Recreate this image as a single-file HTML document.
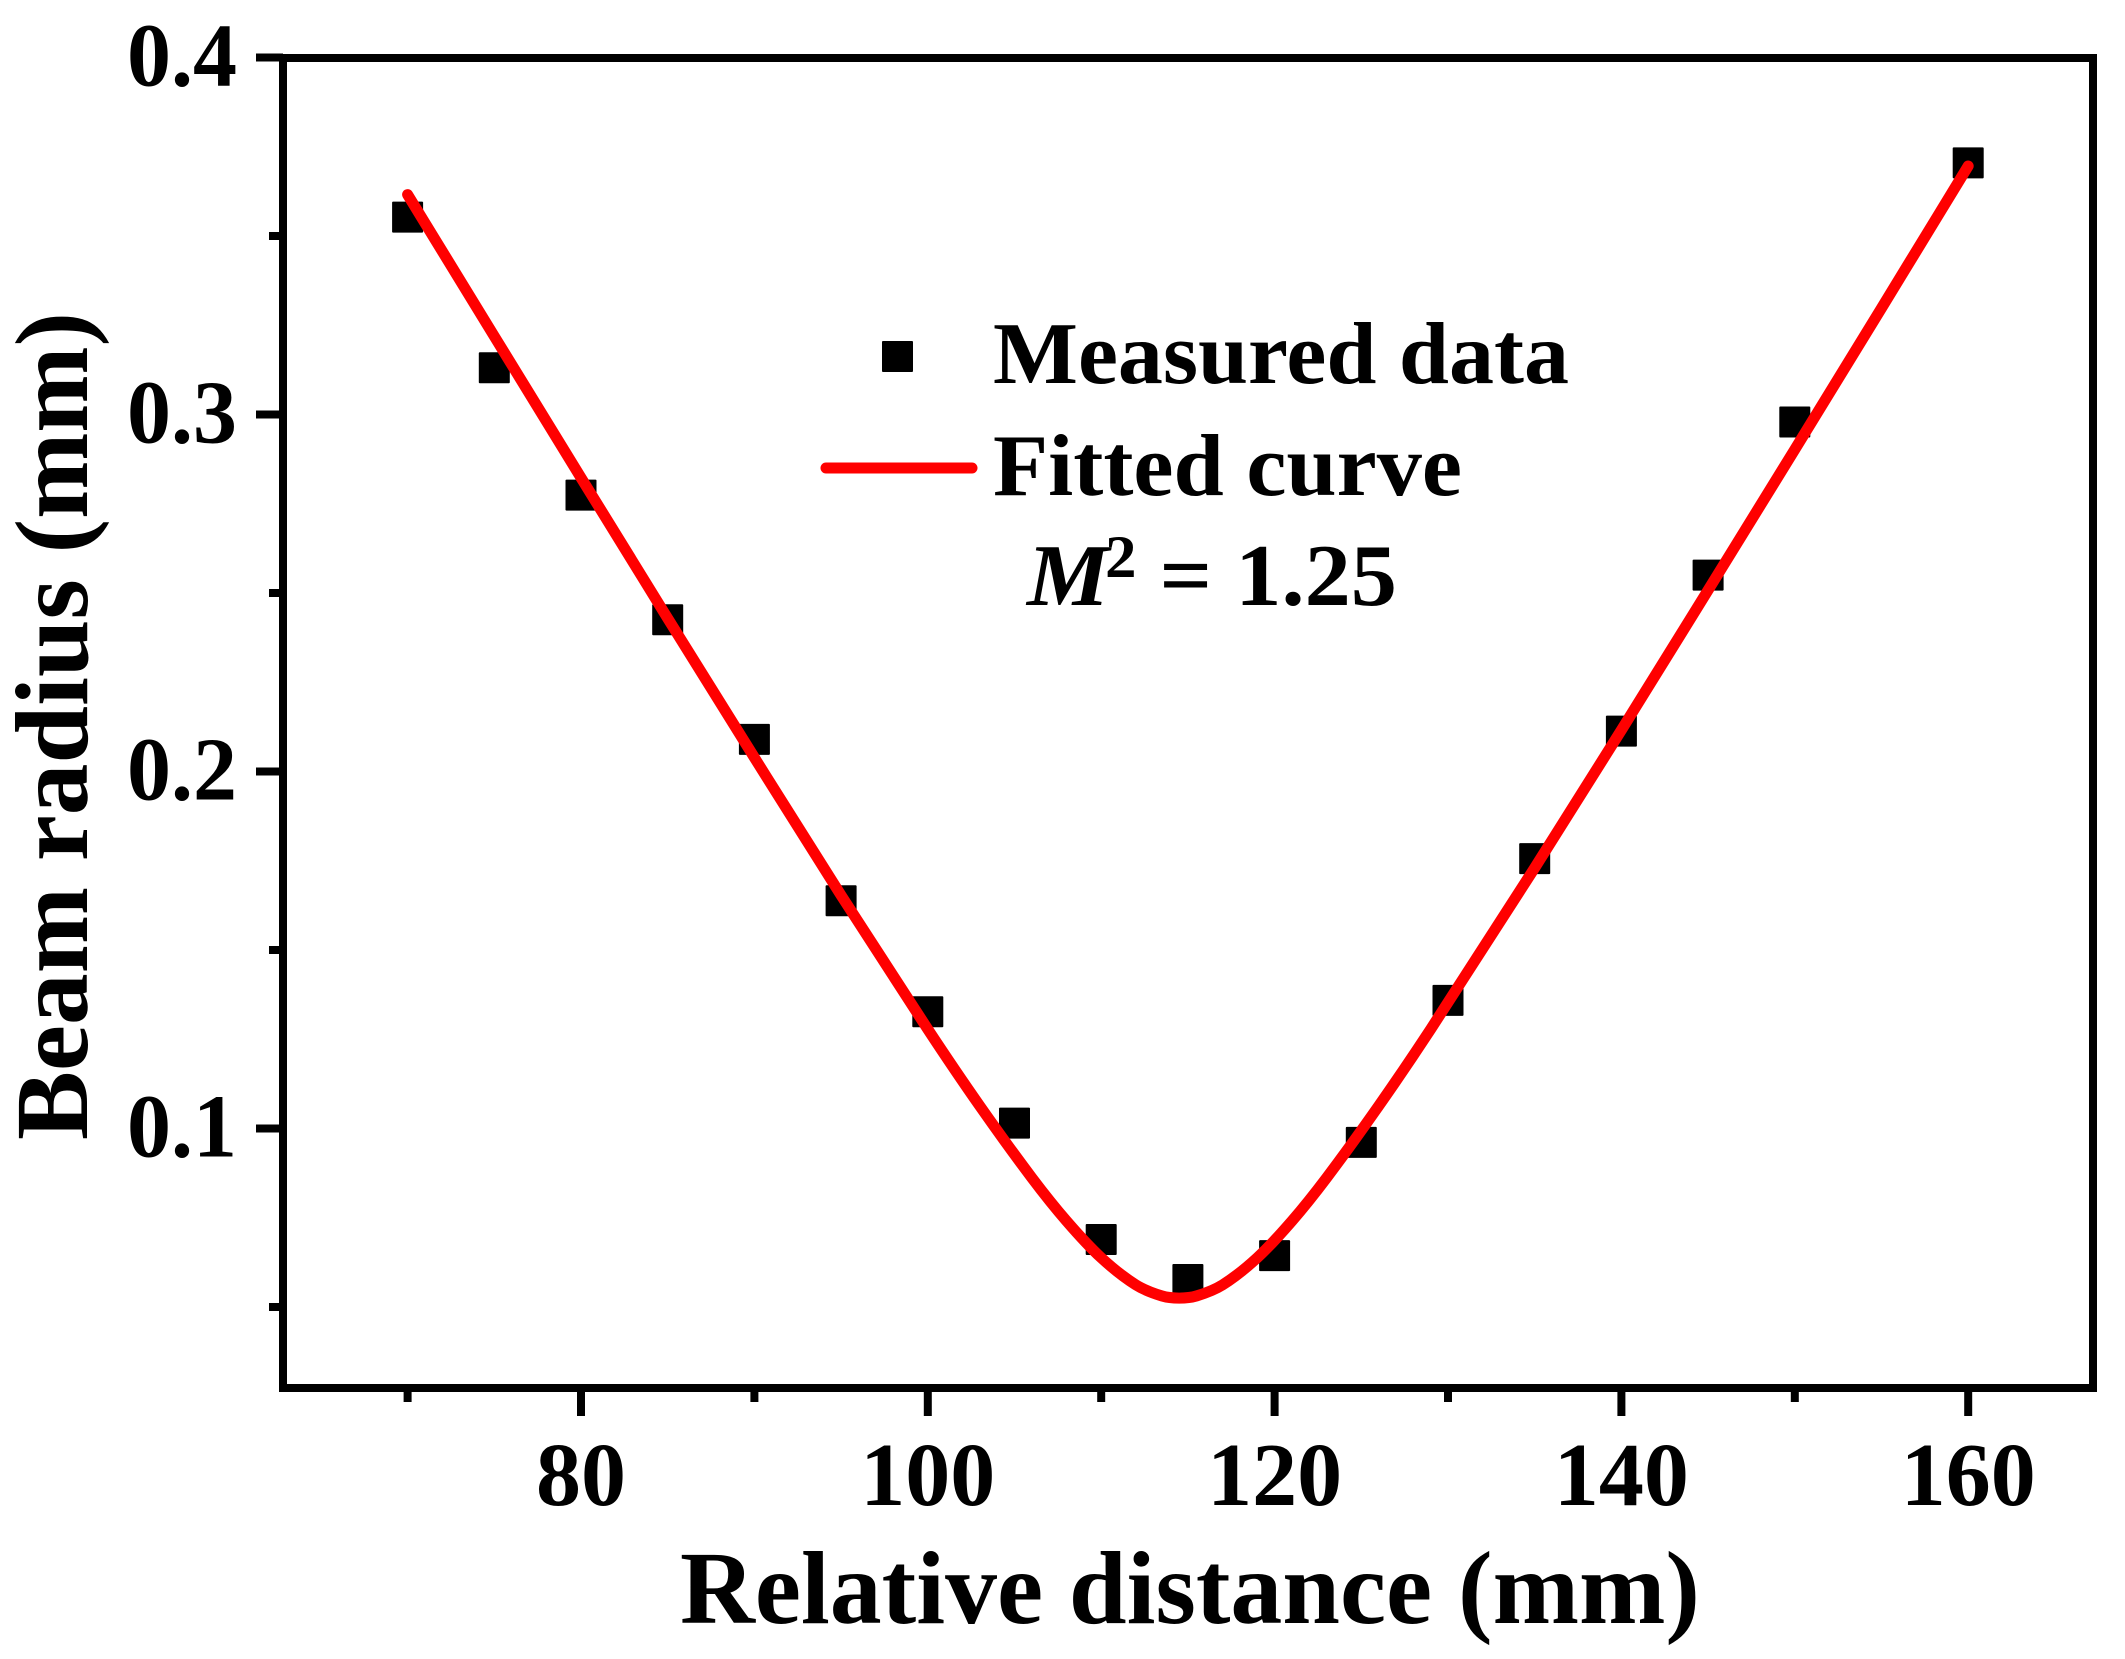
<!DOCTYPE html>
<html>
<head>
<meta charset="utf-8">
<title>Beam radius vs relative distance</title>
<style>
html,body{margin:0;padding:0;background:#fff;}
svg{display:block;}
text{font-family:"Liberation Serif",serif;font-weight:bold;fill:#000;}
</style>
</head>
<body>
<svg id="chart" xmlns="http://www.w3.org/2000/svg" width="2125" height="1659" viewBox="0 0 2125 1659">
  <rect x="0" y="0" width="2125" height="1659" fill="#fff"/>
  <g id="ticks"></g>
  <g id="labels"></g>
  <g id="points"></g>
  <path id="fit" fill="none" stroke="#ff0000" stroke-width="11" stroke-linecap="round" stroke-linejoin="round"/>
  <rect x="283" y="58" width="1810" height="1330" fill="none" stroke="#000" stroke-width="8"/>
  <text x="1190" y="1623" font-size="104" text-anchor="middle" textLength="1020" lengthAdjust="spacingAndGlyphs">Relative distance (mm)</text>
  <text transform="translate(87,1140) rotate(-90)" x="0" y="0" font-size="104" textLength="828" lengthAdjust="spacingAndGlyphs">Beam radius (mm)</text>
  <g>
    <rect x="882" y="341" width="31" height="31" rx="1" fill="#000"/>
    <text x="993" y="383" font-size="88" textLength="576" lengthAdjust="spacingAndGlyphs">Measured data</text>
    <line x1="826" y1="468" x2="972" y2="468" stroke="#ff0000" stroke-width="11" stroke-linecap="round"/>
    <text x="993" y="495" font-size="88" textLength="469" lengthAdjust="spacingAndGlyphs">Fitted curve</text>
    <text transform="translate(1027,605) scale(1.05,1)" x="0" y="0" font-size="88"><tspan font-style="italic">M</tspan><tspan font-size="60" dy="-28" dx="-4">2</tspan><tspan dy="28"> = 1.25</tspan></text>
  </g>
</svg>
<script>
var measuredX = [70,75,80,85,90,95,100,105,110,115,120,125,130,135,140,145,150,160];
var measuredY = [0.3553,0.3131,0.2774,0.2425,0.209,0.1638,0.1327,0.1015,0.0689,0.0577,0.0644,0.0961,0.1359,0.1756,0.2113,0.255,0.2979,0.3705];
var fitX = [70,75,80,85,90,95,100,103,106,108,110,112,113.5,114.5,115.5,117,119,121,123,126,129,135,140,145,150,155,160];
var fitY = [0.3616,0.3219,0.2823,0.2429,0.2039,0.1653,0.1278,0.1063,0.0862,0.0741,0.0638,0.0562,0.0531,0.0525,0.0531,0.0562,0.0638,0.0741,0.0862,0.1063,0.1278,0.173,0.2116,0.2508,0.2902,0.3298,0.3696];
var xMajorTicks = [80,100,120,140,160];
var xMinorTicks = [70,90,110,130,150];
var yMajorTicks = [0.1,0.2,0.3,0.4];
var yMinorTicks = [0.05,0.15,0.25,0.35];

function xScale(v){ return 581 + (v - 80) * 17.34; }
function yScale(v){ return 57.5 + (0.4 - v) * 3570; }

var NS = 'http://www.w3.org/2000/svg';
function make(tag, attrs, parent){
  var el = document.createElementNS(NS, tag);
  for (var k in attrs) el.setAttribute(k, attrs[k]);
  parent.appendChild(el);
  return el;
}
var tickGroup = document.getElementById('ticks');
var labelGroup = document.getElementById('labels');
var pointGroup = document.getElementById('points');

xMajorTicks.forEach(function(v){
  var t = make('line', {x1:xScale(v), x2:xScale(v), y1:1388, y2:1416, stroke:'#000', 'stroke-width':8}, tickGroup);
  
  
  var l = make('text', {x:xScale(v), y:1505, 'font-size':90, 'text-anchor':'middle'}, labelGroup);
  
  
  l.textContent = String(v);
});
xMinorTicks.forEach(function(v){
  var t = make('line', {x1:xScale(v), x2:xScale(v), y1:1388, y2:1402, stroke:'#000', 'stroke-width':8}, tickGroup);
  
  
});
yMajorTicks.forEach(function(v){
  var t = make('line', {x1:256, x2:283, y1:yScale(v), y2:yScale(v), stroke:'#000', 'stroke-width':8}, tickGroup);
  
  
  var l = make('text', {x:237, y:yScale(v) + 28, 'font-size':90, 'text-anchor':'end', textLength:110, lengthAdjust:'spacingAndGlyphs'}, labelGroup);
  
  
  l.textContent = v.toFixed(1);
});
yMinorTicks.forEach(function(v){
  var t = make('line', {x1:269, x2:283, y1:yScale(v), y2:yScale(v), stroke:'#000', 'stroke-width':8}, tickGroup);
  
  
});
measuredX.forEach(function(v, i){
  var p = make('rect', {x:xScale(v) - 15.5, y:yScale(measuredY[i]) - 15.5, width:31, height:31, rx:1, fill:'#000'}, pointGroup);
  
  
});
(function(){
  var n = fitX.length;
  var pts = fitX.map(function(v, i){ return [xScale(v), yScale(fitY[i])]; });
  var slopes = pts.map(function(p, i){
    var a = pts[Math.max(i - 1, 0)], b = pts[Math.min(i + 1, n - 1)];
    return (b[1] - a[1]) / (b[0] - a[0]);
  });
  var d = 'M' + pts[0][0] + ' ' + pts[0][1];
  for (var i = 0; i < n - 1; i++){
    var h = (pts[i + 1][0] - pts[i][0]) / 3;
    d += ' C' + (pts[i][0] + h) + ' ' + (pts[i][1] + slopes[i] * h) + ' ' +
         (pts[i + 1][0] - h) + ' ' + (pts[i + 1][1] - slopes[i + 1] * h) + ' ' +
         pts[i + 1][0] + ' ' + pts[i + 1][1];
  }
  document.getElementById('fit').setAttribute('d', d);
})();
</script>
</body>
</html>
